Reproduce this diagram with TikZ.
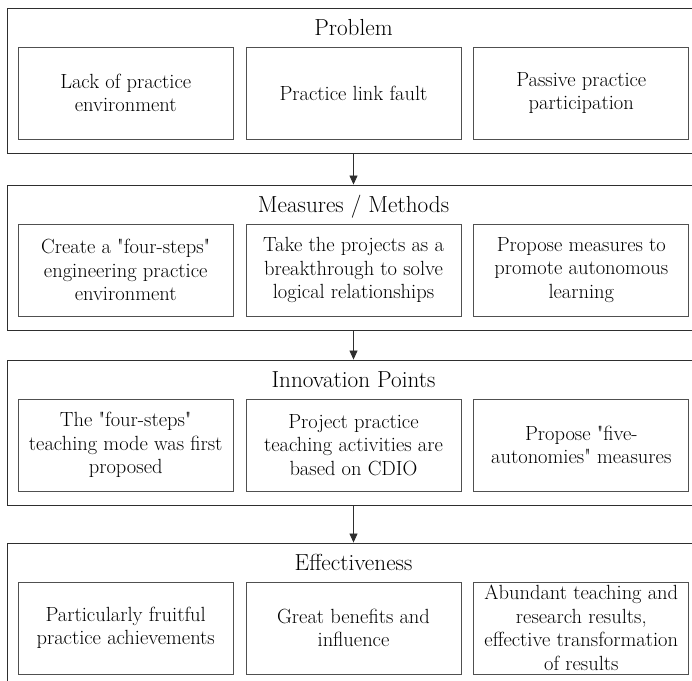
\documentclass[tikz,border=0pt]{standalone}
\usepackage{tikz}
\usetikzlibrary{positioning,arrows.meta}
\definecolor{frame}{HTML}{2E2E2E}
\definecolor{boxline}{HTML}{505050}
\newcommand{\qt}{\textquotedbl}

\begin{document}
\begin{tikzpicture}[x=1pt, y=-1pt,
  node distance=12pt,
  every node/.style={font=\fontsize{20.5}{23.5}\selectfont},
  panel/.style={draw=frame, line width=0.9pt, minimum width=693pt, minimum height=145pt, inner sep=0pt},
  heading/.style={font=\fontsize{23.2}{26}\selectfont, anchor=base, inner sep=0pt},
  itembox/.style={draw=boxline, line width=0.8pt, minimum width=215pt, minimum height=92pt,
               align=center, inner sep=0pt},
  arrow/.style={-{Triangle[length=9pt,width=8pt]}, line width=0.8pt, color=frame}
]
  \useasboundingbox (0,0) rectangle (692,680);
  \clip (0,0) rectangle (692,680);

  % Problem
  \node[panel] (p1) at (353.5,80.5) {};
  \node[heading] (t1) at ([yshift=-28pt]p1.north) {Problem};
  \node[itembox] (p1b) at ([yshift=-12.5pt]p1.center) {Practice link fault};
  \node[itembox, left=of p1b] (p1a) {Lack of practice\\environment};
  \node[itembox, right=of p1b] (p1c) {Passive practice\\participation};

  % Measures / Methods
  \node[panel] (p2) at (353.5,257.5) {};
  \node[heading] (t2) at ([yshift=-28pt]p2.north) {Measures / Methods};
  \node[itembox] (p2b) at ([yshift=-12.5pt]p2.center) {Take the projects as a\\breakthrough to solve\\logical relationships};
  \node[itembox, left=of p2b] (p2a) {Create a \qt four-steps\qt\\engineering practice\\environment};
  \node[itembox, right=of p2b] (p2c) {Propose measures to\\promote autonomous\\learning};

  % Innovation Points
  \node[panel] (p3) at (353.5,432.5) {};
  \node[heading] (t3) at ([yshift=-28pt]p3.north) {Innovation Points};
  \node[itembox] (p3b) at ([yshift=-12.5pt]p3.center) {Project practice\\teaching activities are\\based on CDIO};
  \node[itembox, left=of p3b] (p3a) {The \qt four-steps\qt\\teaching mode was first\\proposed};
  \node[itembox, right=of p3b] (p3c) {Propose \qt five-\\autonomies\qt{} measures};

  % Effectiveness
  \node[panel] (p4) at (353.5,615.5) {};
  \node[heading] (t4) at ([yshift=-28pt]p4.north) {Effectiveness};
  \node[itembox] (p4b) at ([yshift=-12.5pt]p4.center) {Great benefits and\\influence};
  \node[itembox, left=of p4b] (p4a) {Particularly fruitful\\practice achievements};
  \node[itembox, right=of p4b] (p4c) {Abundant teaching and\\research results,\\effective transformation\\of results};

  \draw[arrow] (p1) -- (p2);
  \draw[arrow] (p2) -- (p3);
  \draw[arrow] (p3) -- (p4);
\end{tikzpicture}
\end{document}
